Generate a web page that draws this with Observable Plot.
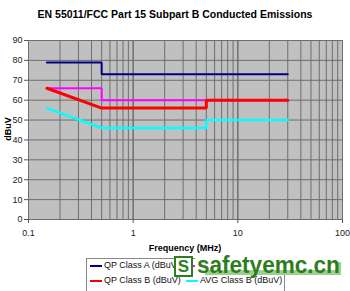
<!DOCTYPE html>
<html><head><meta charset="utf-8">
<script src="https://cdn.jsdelivr.net/npm/d3@7"></script>
<script src="https://cdn.jsdelivr.net/npm/@observablehq/plot@0.6"></script>
<style>
body{margin:0;background:#fff;font-family:"Liberation Sans",Arial,sans-serif;}
#wrap{position:relative;width:350px;height:291px;overflow:hidden;}
.t{position:absolute;white-space:nowrap;color:#000;}
</style></head><body>
<div id="wrap"></div>
<script>
const seriesNames = ["QP Class A (dBuV)", "AVG Class A (dBuV)", "QP Class B (dBuV)", "AVG Class B (dBuV)"];
const seriesColors = ["#000080", "#ff00ff", "#ff0000", "#00ffff"];
const qpA_f = [0.15, 0.5, 0.5, 30];
const qpA_v = [79, 79, 73, 73];
const avgA_f = [0.15, 0.5, 0.5, 30];
const avgA_v = [66, 66, 60, 60];
const qpB_f = [0.15, 0.5, 5, 5, 30];
const qpB_v = [66, 56, 56, 60, 60];
const avgB_f = [0.15, 0.5, 5, 5, 30];
const avgB_v = [56, 46, 46, 50, 50];
const xTicks = [0.1, 1, 10, 100];
const yTicks = [0, 10, 20, 30, 40, 50, 60, 70, 80, 90];

const toRows = (fs, vs) => fs.map((f, i) => ({f, v: vs[i]}));
const series = [toRows(qpA_f, qpA_v), toRows(avgA_f, avgA_v), toRows(qpB_f, qpB_v), toRows(avgB_f, avgB_v)];
const widths = [2, 2, 3, 2.5];
const minor = [];
for (let d = 0.1; d < 100; d *= 10) for (let k = 1; k <= 10; k++) minor.push(+(d * k).toPrecision(3));

const chart = Plot.plot({
  width: 350, height: 291,
  marginTop: 40, marginBottom: 72, marginLeft: 28, marginRight: 8,
  style: {fontFamily: "Liberation Sans, Arial, sans-serif", fontSize: "9px", color: "#222", background: "transparent"},
  x: {type: "log", domain: [0.1, 100], ticks: xTicks, tickFormat: d => String(d), tickSize: 4, label: null},
  y: {domain: [0, 90], ticks: yTicks, tickSize: 4, label: null},
  marks: [
    Plot.frame({fill: "#c0c0c0"}),
    Plot.ruleX(minor, {stroke: "#6e6e6e", strokeWidth: 1, strokeOpacity: 1}),
    Plot.ruleY(yTicks, {stroke: "#6e6e6e", strokeWidth: 1, strokeOpacity: 1}),
    ...series.map((s, i) => Plot.line(s, {x: "f", y: "v", stroke: seriesColors[i], strokeWidth: widths[i], strokeLinejoin: "miter"})),
    Plot.axisX({ticks: xTicks, tickFormat: d => String(d), tickSize: 4, tickPadding: 6, stroke: "#555"}),
    Plot.axisY({ticks: yTicks, tickSize: 4, tickPadding: 2, stroke: "#555"})
  ]
});
const wrap = document.getElementById("wrap");
chart.style.position = "absolute"; chart.style.left = "0"; chart.style.top = "0";
wrap.appendChild(chart);
d3.select(chart).append("text")
  .attr("transform", "translate(11,129) rotate(-90)")
  .attr("text-anchor", "middle")
  .attr("font-size", 9).attr("font-weight", "bold").attr("fill", "#000")
  .attr("font-family", "Liberation Sans, Arial, sans-serif")
  .text("dBuV");

function add(html, css) { const d = document.createElement("div"); d.className = "t"; d.innerHTML = html; Object.assign(d.style, css); wrap.appendChild(d); return d; }
add("EN 55011/FCC Part 15 Subpart B Conducted Emissions", {left: "0", width: "350px", textAlign: "center", top: "8px", fontSize: "10.5px", fontWeight: "bold"});
add("Frequency (MHz)", {left: "135px", width: "100px", textAlign: "center", top: "243px", fontSize: "9px", fontWeight: "bold"});

// legend box
add("", {left: "86px", top: "258px", width: "197px", height: "40px", border: "1px solid #888", background: "#fff"});
const pos = [[90, 266], [186, 266], [90, 281], [186, 281]];
seriesNames.forEach((n, i) => {
  add("", {left: pos[i][0] + "px", top: (pos[i][1] - 1) + "px", width: "12px", height: "2px", background: seriesColors[i]});
  add(n, {left: (pos[i][0] + 14) + "px", top: (pos[i][1] - 6) + "px", fontSize: "9px", color: "#111"});
});
// watermark
add("", {left: "195px", top: "256px", width: "147px", height: "19px", background: "#fff"});
add("", {left: "205px", top: "270px", width: "136px", height: "5px", background: "#9ccf90"});
add("", {left: "337px", top: "262px", width: "4px", height: "13px", background: "#9ccf90"});
add("S", {left: "174px", top: "256px", width: "15px", height: "17px", border: "2px solid #2d7d1e", background: "#fff", color: "#2d7d1e", fontSize: "17px", fontWeight: "bold", textAlign: "center", lineHeight: "17px"});
add("safetyemc.cn", {left: "197px", top: "254px", fontSize: "23px", lineHeight: "23px", fontWeight: "bold", color: "#2d7d1e", transform: "scaleX(0.98)", transformOrigin: "0 0"});
</script>
</body></html>
